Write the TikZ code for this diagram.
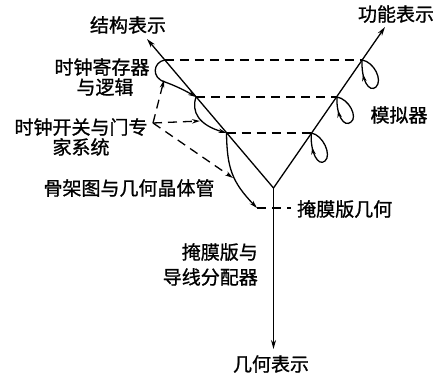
\documentclass[tikz,border=0pt]{standalone}
\usepackage{fontspec}
\newfontfamily\cjk[FakeBold=1]{Noto Sans CJK SC}
\usetikzlibrary{arrows.meta,decorations.markings}
\begin{document}
\begin{tikzpicture}[x=1pt,y=-1pt,
  lbl/.style={font=\cjk\fontsize{19}{20}\selectfont, inner sep=0pt},
  axisline/.style={line width=1.3pt,-{Stealth[length=9pt,width=5pt]}},
  dashline/.style={line width=1.3pt,dash pattern=on 9pt off 6pt},
  dasharrow/.style={dashline,-{Stealth[length=8pt,width=4.5pt]}},
  flow/.style={line width=1.3pt,-{Stealth[length=8pt,width=4.5pt]}},
  loopy/.style={line width=1.3pt, postaction={decorate},
    decoration={markings, mark=at position 0.8 with {\arrow{Stealth[length=7pt,width=4.5pt]}}}}
]
\useasboundingbox (0,0) rectangle (443,375);
% key points
\coordinate (O) at (273.5,188);
\coordinate (L) at (147,39);
\coordinate (R) at (385,27);
\coordinate (D) at (273.5,349);
\coordinate (A1) at (164.8,60);
\coordinate (A2) at (196,97);
\coordinate (A3) at (226.5,133);
\coordinate (B1) at (362.1,60);
\coordinate (B2) at (337,97);
\coordinate (B3) at (311.3,133);
\coordinate (M1) at (257,208);
\coordinate (M2) at (291,208);
\coordinate (J) at (153,123);
% labels
\node[lbl] (struct) at (128,25) {结构表示};
\node[lbl] (func) at (396,14) {功能表示};
\node[lbl] (geom) at (271,364) {几何表示};
\node[lbl,align=center] (clkreg) at (102,77) {时钟寄存器\\\hspace*{6pt}与逻辑};
\node[lbl,align=center] (clksw) at (81,137) {时钟开关与门专\\家系统};
\node[lbl] (skel) at (129,188) {骨架图与几何晶体管};
\node[lbl] (sim) at (399,115) {模拟器};
\node[lbl,anchor=west] (mask) at (297,209) {掩膜版几何};
\node[lbl,align=right,anchor=east,font=\cjk\fontsize{19}{25}\selectfont] (route) at (258,264.5) {掩膜版与\\导线分配器};
% axes
\draw[axisline] (O) -- (L);
\draw[axisline] (O) -- (R);
\draw[axisline] (O) -- (D);
% dashed levels
\draw[dashline] (A1) -- (B1);
\draw[dashline] (A2) -- (B2);
\draw[dashline] (A3) -- (B3);
\draw[dashline] (M1) -- (M2);
% left flows
\draw[flow] (A1) .. controls (153,62) and (151,78) .. (165,82) .. controls (176,86) and (186,91) .. (A2);
\draw[flow] (A2) .. controls (191,112) and (199,125) .. (A3);
\draw[flow] (A3) .. controls (227,168) and (232,182) .. (M1);
% dashed arrows from label
\draw[dasharrow] (J) -- (164,80);
\draw[dasharrow] (J) -- (200,121);
\draw[dasharrow] (J) -- (233,178);
% right loops
\draw[loopy] (B1) .. controls (374,62) and (383,80) .. (376,87) .. controls (369,93) and (361,80) .. (B1);
\draw[loopy] (B2) .. controls (349,99) and (358,117) .. (351,122) .. controls (344,128) and (336,115) .. (B2);
\draw[loopy] (B3) .. controls (323,135) and (332,155) .. (325,161) .. controls (318,167) and (310,152) .. (B3);
\end{tikzpicture}
\end{document}
